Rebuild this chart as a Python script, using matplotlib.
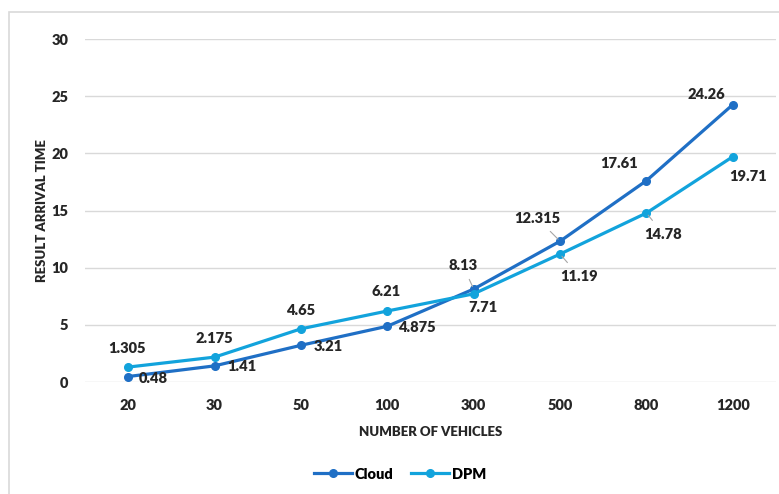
import matplotlib
matplotlib.use("Agg")
import matplotlib.pyplot as plt
from matplotlib.patches import Rectangle

# vehicles vs result arrival time
vehicles = ['20', '30', '50', '100', '300', '500', '800', '1200']
cloud = [0.48, 1.41, 3.21, 4.875, 8.13, 12.315, 17.61, 24.26]
dpm = [1.305, 2.175, 4.65, 6.21, 7.71, 11.19, 14.78, 19.71]

# label offsets in pixels (dx, dy) from each point
cloud_off = [(25, -2), (27, -1), (27, -1), (30, -1), (-11, 24), (-23, 23), (-27, 17), (-26, 10)]
dpm_off = [(-1, 19), (0, 19), (0, 18), (-1, 19), (9, -14), (19, -22), (17, -21), (15, -20)]
leader_cloud = [4, 5]
leader_dpm = [5, 6]

c_cloud = '#1f6fc5'
c_dpm = '#12a3dc'
txt = '#262626'
plt.rcParams['font.family'] = ['Lato', 'DejaVu Sans']

fig = plt.figure(figsize=(7.79, 4.94), dpi=100)
fig.patches.append(Rectangle((9/779, -0.5), 2, 0.5 + 1 - 12/494, transform=fig.transFigure,
                             fill=False, edgecolor='#d9d9d9', lw=1.2))
ax = fig.add_axes([85/779, 1 - 382/494, 691/779, 343/494])

x = range(len(vehicles))
ax.plot(x, cloud, color=c_cloud, lw=2.3, marker='o', ms=5.5, label='Cloud', zorder=3)
ax.plot(x, dpm, color=c_dpm, lw=2.3, marker='o', ms=5.5, label='DPM', zorder=3)

px = 0.72  # pixels -> points
for vals, offs, leaders in [(cloud, cloud_off, leader_cloud), (dpm, dpm_off, leader_dpm)]:
    for i, v in enumerate(vals):
        dx, dy = offs[i]
        ap = dict(arrowstyle='-', color='#a6a6a6', lw=0.8, shrinkA=4, shrinkB=2) if i in leaders else None
        ax.annotate(f'{v:g}', (i, v), xytext=(dx*px, dy*px), textcoords='offset points',
                    ha='center', va='center', fontsize=10.5, fontweight='heavy', color=txt,
                    arrowprops=ap, zorder=4)

ax.set_xlim(-0.5, len(vehicles) - 0.5)
ax.set_ylim(0, 30)
ax.set_xticks(list(x))
ax.set_xticklabels(vehicles)
ax.set_yticks(range(0, 31, 5))
ax.grid(axis='y', color='#d9d9d9', lw=1)
ax.set_axisbelow(True)
for s in ax.spines.values():
    s.set_visible(False)
ax.tick_params(length=0, labelsize=10.5, labelcolor=txt, pad=12)
for t in ax.get_xticklabels() + ax.get_yticklabels():
    t.set_fontweight('heavy')
ax.set_xlabel('NUMBER OF VEHICLES', fontsize=9.5, fontweight='heavy', color=txt, labelpad=10)
ax.set_ylabel('RESULT ARRIVAL TIME', fontsize=9.5, fontweight='heavy', color=txt)
ax.yaxis.set_label_coords(-37/691, 0.5)

fig.legend(loc='center', bbox_to_anchor=(400/779, 1 - 474/494), ncol=2, frameon=False,
           prop={'weight': 'heavy', 'size': 10.5}, handlelength=2.6, columnspacing=1.2, handletextpad=0.2)

fig.savefig('out.png', dpi=100)
